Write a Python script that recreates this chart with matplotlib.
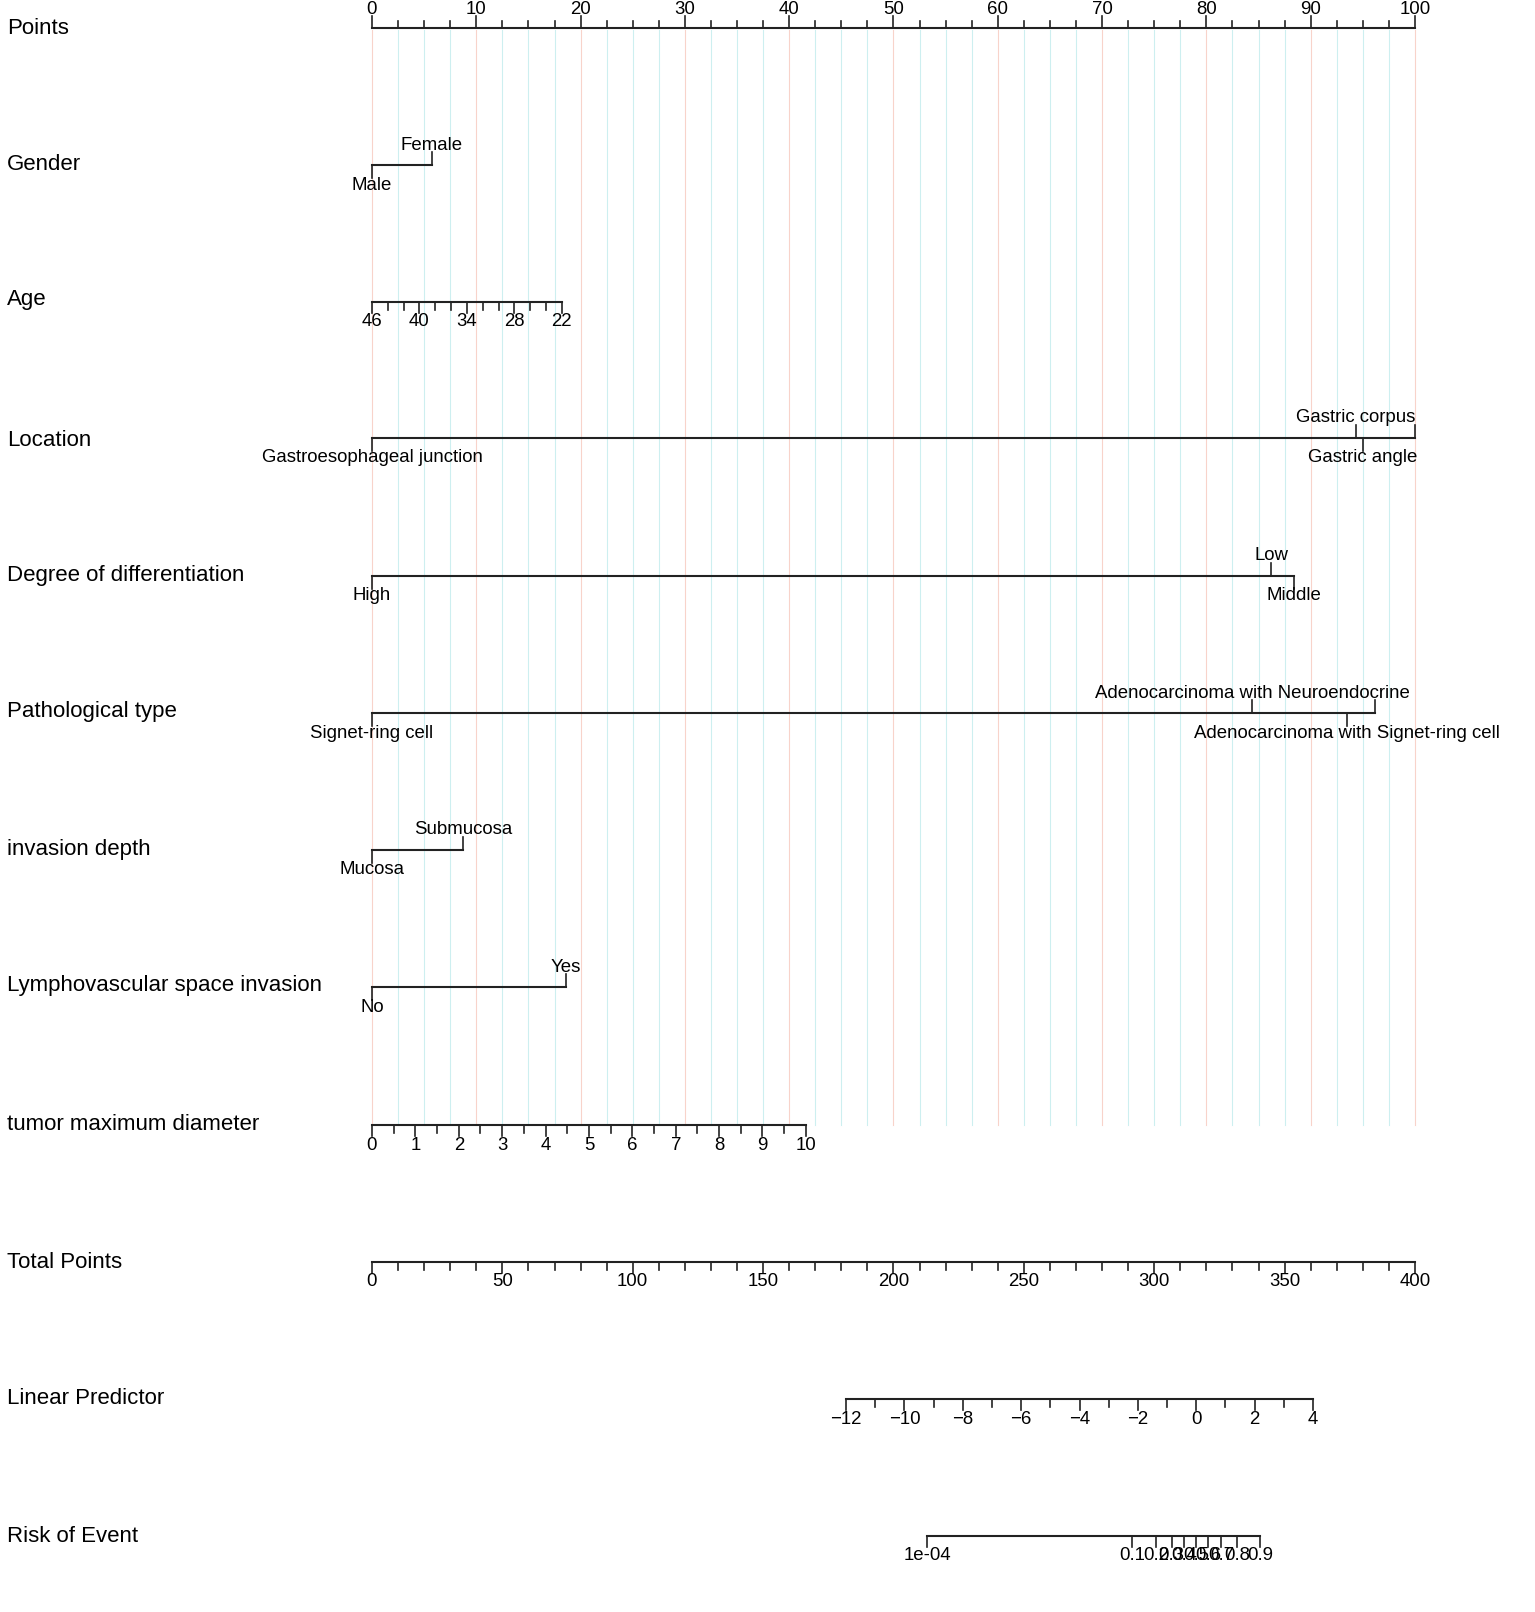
import numpy as np
import matplotlib
matplotlib.use("Agg")
import matplotlib.pyplot as plt

plt.rcParams['font.family'] = ['Liberation Sans', 'DejaVu Sans']

# ---- data (points scale 0-100) ----
row_names = ["Points", "Gender", "Age", "Location", "Degree of differentiation",
             "Pathological type", "invasion depth", "Lymphovascular space invasion",
             "tumor maximum diameter", "Total Points", "Linear Predictor", "Risk of Event"]

gender_levels = ["Male", "Female"]
gender_pts = [0, 5.75]

age_values = [46, 44, 42, 40, 38, 36, 34, 32, 30, 28, 26, 24, 22]
age_labels = [46, 40, 34, 28, 22]
age_range = [46, 22]
age_pts_range = [0, 18.2]

# last level's label is not shown in the original (overlap), only its tick
location_levels = ["Gastroesophageal junction", "Gastric corpus", "Gastric angle", ""]
location_pts = [0, 94.3, 95.0, 100]

degree_levels = ["High", "Low", "Middle"]
degree_pts = [0, 86.2, 88.4]

path_levels = ["Signet-ring cell", "Adenocarcinoma with Neuroendocrine",
               "Adenocarcinoma with Signet-ring cell", ""]
path_pts = [0, 84.4, 93.5, 96.2]

invasion_levels = ["Mucosa", "Submucosa"]
invasion_pts = [0, 8.7]

lvsi_levels = ["No", "Yes"]
lvsi_pts = [0, 18.6]

tumor_values = np.arange(0, 10.5, 0.5)
tumor_labels = list(range(0, 11))
tumor_range = [0, 10]
tumor_pts_range = [0, 41.6]

total_values = np.arange(0, 410, 10)
total_labels = list(range(0, 450, 50))

lp_values = np.arange(-12, 5, 1)
lp_labels = list(range(-12, 6, 2))
lp_range = [-12, 4]
lp_pts_range = [45.45, 90.22]

risk_values = [1e-4, 0.1, 0.2, 0.3, 0.4, 0.5, 0.6, 0.7, 0.8, 0.9]
risk_labels = ["1e-04", "0.1", "0.2", "0.3", "0.4", "0.5", "0.6", "0.7", "0.8", "0.9"]

# ---- layout ----
row_y = [28, 165, 302, 438, 576, 713, 850, 987, 1125, 1262, 1399, 1536]
name_y = [28, 165, 300, 440, 575, 712, 849, 986, 1125, 1262, 1399, 1536]
W, H = 1535, 1612
px_per_pt = 10.43
x0 = 372

fig = plt.figure(figsize=(W / 100, H / 100), dpi=100)
ax = fig.add_axes([0, 0, 1, 1])
ax.set_xlim(-x0 / px_per_pt, (W - x0) / px_per_pt)
ax.set_ylim(H, 0)
ax.axis('off')

LW = 1.5
FS_NAME = 16
FS_TICK = 13.4

# grid lines
for p in np.arange(0, 100.1, 2.5):
    col = '#f8d3ca' if p % 10 == 0 else '#cdeff0'
    ax.plot([p, p], [row_y[0] + 2, row_y[8]], color=col, lw=0.8, zorder=0)

# row names
for name, y in zip(row_names, name_y):
    ax.text(-x0 / px_per_pt + 7 / px_per_pt, y, name, fontsize=FS_NAME,
            ha='left', va='center')

# points axis (ticks up, labels above)
pts_ticks = np.arange(0, 100.1, 2.5)
y = row_y[0]
ax.plot([0, 100], [y, y], color='#222222', lw=LW)
for p in pts_ticks:
    L = 12 if p % 10 == 0 else 7
    ax.plot([p, p], [y, y - L], color='#222222', lw=LW * 0.8)
for p in range(0, 101, 10):
    ax.text(p, y - 19, str(p), fontsize=FS_TICK, ha='center', va='center')


def numeric_axis(y, pts, labelled):
    ax.plot([min(pts), max(pts)], [y, y], color='#222222', lw=LW)
    for p, lab in zip(pts, labelled):
        L = 11 if lab else 8
        ax.plot([p, p], [y, y + L], color='#222222', lw=LW * 0.8)


def cat_axis(y, levels, pts):
    ax.plot([min(pts), max(pts)], [y, y], color='#222222', lw=LW)
    for i, (lev, p) in enumerate(zip(levels, pts)):
        d = 13 if i % 2 == 0 else -13
        ax.plot([p, p], [y, y + d], color='#222222', lw=LW * 0.8)
        if lev:
            ax.text(p, y + (20 if i % 2 == 0 else -20), lev, fontsize=FS_TICK,
                    ha='center', va='center')


cat_axis(row_y[1], gender_levels, gender_pts)

# age
age_pts = np.interp(age_values, age_range[::-1], age_pts_range[::-1])
y = row_y[2]
numeric_axis(y, age_pts, [v in age_labels for v in age_values])
for v in age_labels:
    ax.text(np.interp(v, age_range[::-1], age_pts_range[::-1]), y + 20, str(v),
            fontsize=FS_TICK, ha='center', va='center')

cat_axis(row_y[3], location_levels, location_pts)
cat_axis(row_y[4], degree_levels, degree_pts)
cat_axis(row_y[5], path_levels, path_pts)
cat_axis(row_y[6], invasion_levels, invasion_pts)
cat_axis(row_y[7], lvsi_levels, lvsi_pts)

# tumor diameter
y = row_y[8]
tpts = np.interp(tumor_values, tumor_range, tumor_pts_range)
numeric_axis(y, tpts, [v % 1 == 0 for v in tumor_values])
for v in tumor_labels:
    ax.text(np.interp(v, tumor_range, tumor_pts_range), y + 20, str(v),
            fontsize=FS_TICK, ha='center', va='center')

# total points
y = row_y[9]
numeric_axis(y, total_values / 4.0, [v % 50 == 0 for v in total_values])
for v in total_labels:
    ax.text(v / 4.0, y + 20, str(v), fontsize=FS_TICK, ha='center', va='center')

# linear predictor
y = row_y[10]
lpts = np.interp(lp_values, lp_range, lp_pts_range)
numeric_axis(y, lpts, [v % 2 == 0 for v in lp_values])
for v in lp_labels:
    lab = str(v).replace('-', '\u2212')
    ax.text(np.interp(v, lp_range, lp_pts_range), y + 20, lab,
            fontsize=FS_TICK, ha='center', va='center')

# risk of event (labels crowd together as in the original)
y = row_y[11]
risk = np.array(risk_values)
risk_lp = np.log(risk / (1 - risk))
rpts = np.interp(risk_lp, lp_range, lp_pts_range)
numeric_axis(y, rpts, [True] * len(rpts))
for p, lab in zip(rpts, risk_labels):
    ax.text(p, y + 20, lab, fontsize=FS_TICK, ha='center', va='center')

fig.savefig('out.png', dpi=100, facecolor='white')
